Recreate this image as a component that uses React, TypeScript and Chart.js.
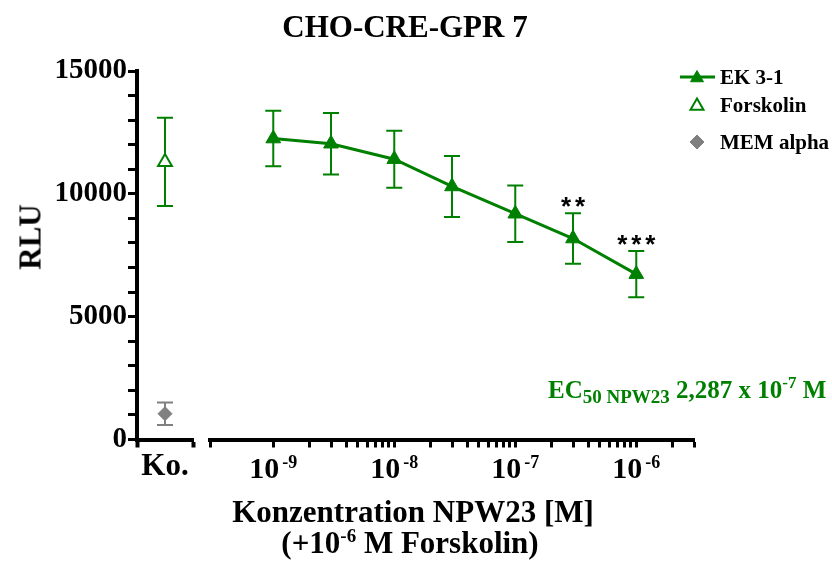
import React, { useEffect, useRef } from 'react';
import { Chart, registerables } from 'chart.js';

Chart.register(...registerables);

// ---------------- data ----------------
const concentrations = [1e-9, 3e-9, 1e-8, 3e-8, 1e-7, 3e-7, 1e-6];
const ekMeans = [12250, 12040, 11410, 10300, 9190, 8180, 6730];
const ekErrors = [1130, 1250, 1160, 1240, 1150, 1030, 940];
const ekSignificance = ['', '', '', '', '', '**', '***'];
const controlCategories = ['Ko.'];
const forskolinMeans = [11300];
const forskolinErrors = [1800];
const memMeans = [1050];
const memErrors = [460];
const seriesNames = ['EK 3-1', 'Forskolin', 'MEM alpha'];
const yLabelledTicks = [0, 5000, 10000, 15000];
const xDecadeTicks = [1e-9, 1e-8, 1e-7, 1e-6];
const xRange = [3e-10, 3e-6];
const yRange = [0, 15000];

// ---------------- style ----------------
const GREEN = '#008000';
const GREY = '#808080';
const FONT = '"Liberation Serif", "Times New Roman", serif';
const AREA = { left: 137, right: 694, top: 71, bottom: 439.5 };
const W = 832;
const H = 574;
const LEGEND_ROWS = [84, 112, 149];

function pathTriangle(ctx: CanvasRenderingContext2D, x: number, y: number, r: number) {
  const c = Math.cos(Math.PI / 6) * r;
  ctx.beginPath();
  ctx.moveTo(x, y - r);
  ctx.lineTo(x + c, y + r / 2);
  ctx.lineTo(x - c, y + r / 2);
  ctx.closePath();
}
function pathDiamond(ctx: CanvasRenderingContext2D, x: number, y: number, r: number) {
  ctx.beginPath();
  ctx.moveTo(x, y - r);
  ctx.lineTo(x + r, y);
  ctx.lineTo(x, y + r);
  ctx.lineTo(x - r, y);
  ctx.closePath();
}

const errorBarPlugin = {
  id: 'errorBars',
  beforeDatasetsDraw(chart: any) {
    const ctx = chart.ctx;
    chart.data.datasets.forEach((ds: any, di: number) => {
      if (!ds.errors) return;
      const meta = chart.getDatasetMeta(di);
      const yScale = chart.scales[meta.yAxisID];
      ctx.save();
      ctx.strokeStyle = ds.errorColor;
      ctx.lineWidth = 2;
      meta.data.forEach((el: any, i: number) => {
        const v = ds.data[i].y;
        const e = ds.errors[i];
        const yt = yScale.getPixelForValue(v + e);
        const yb = yScale.getPixelForValue(v - e);
        const x = el.x;
        ctx.beginPath();
        ctx.moveTo(x, yt);
        ctx.lineTo(x, yb);
        ctx.moveTo(x - 8, yt);
        ctx.lineTo(x + 8, yt);
        ctx.moveTo(x - 8, yb);
        ctx.lineTo(x + 8, yb);
        ctx.stroke();
      });
      ctx.restore();
    });
  },
  afterDatasetsDraw(chart: any) {
    const ctx = chart.ctx;
    chart.data.datasets.forEach((ds: any, di: number) => {
      if (!ds.significance) return;
      const meta = chart.getDatasetMeta(di);
      const yScale = chart.scales[meta.yAxisID];
      ctx.save();
      ctx.fillStyle = '#000';
      ctx.font = `bold 26px "Liberation Sans", Arial, sans-serif`;
      ctx.textAlign = 'center';
      ctx.textBaseline = 'alphabetic';
      meta.data.forEach((el: any, i: number) => {
        const s: string = ds.significance[i];
        if (!s) return;
        const yt = yScale.getPixelForValue(ds.data[i].y + ds.errors[i]);
        const base = yt - 13 + 0.58 * 26;
        const step = 14;
        for (let k = 0; k < s.length; k++) {
          const cx = el.x + (k - (s.length - 1) / 2) * step;
          ctx.fillText(s[k], cx, base);
        }
      });
      ctx.restore();
    });
  },
};

const decadeLabelPlugin = {
  id: 'decadeLabels',
  afterDraw(chart: any) {
    const scale = chart.scales.x;
    const ctx = chart.ctx;
    ctx.save();
    ctx.fillStyle = '#000';
    ctx.textAlign = 'left';
    ctx.textBaseline = 'alphabetic';
    xDecadeTicks.forEach((v) => {
      const px = scale.getPixelForValue(v);
      const exp = String(Math.round(Math.log10(v)));
      ctx.font = `bold 30px ${FONT}`;
      const w1 = ctx.measureText('10').width;
      ctx.font = `bold 18px ${FONT}`;
      const w2 = ctx.measureText(exp).width;
      const gap = 3;
      const start = px - (w1 + gap + w2) / 2;
      ctx.font = `bold 30px ${FONT}`;
      ctx.fillText('10', start, scale.top + 38.5);
      ctx.font = `bold 18px ${FONT}`;
      ctx.fillText(exp, start + w1 + gap, scale.top + 28.5);
    });
    ctx.restore();
  },
};

const legendPlugin = {
  id: 'customLegend',
  afterDraw(chart: any) {
    const ctx = chart.ctx;
    ctx.save();
    chart.data.datasets.forEach((ds: any, i: number) => {
      const base = LEGEND_ROWS[i];
      const my = base - 7;
      const mx = 697;
      if (ds.showLine !== false) {
        ctx.strokeStyle = ds.borderColor;
        ctx.lineWidth = 3;
        ctx.beginPath();
        ctx.moveTo(680, my);
        ctx.lineTo(715, my);
        ctx.stroke();
      }
      if (ds.pointStyle === 'triangle') pathTriangle(ctx, mx, my + 1, 7.5);
      else pathDiamond(ctx, mx, my, 7);
      ctx.fillStyle = ds.pointBackgroundColor;
      ctx.fill();
      ctx.strokeStyle = ds.pointBorderColor;
      ctx.lineWidth = ds.pointBorderWidth;
      ctx.stroke();
      ctx.fillStyle = '#000';
      ctx.font = `bold 21px ${FONT}`;
      ctx.textAlign = 'left';
      ctx.textBaseline = 'alphabetic';
      ctx.fillText(ds.label, 720, base);
    });
    ctx.restore();
  },
};

function buildLogTicks() {
  const t: { value: number }[] = [{ value: xRange[0] }];
  for (let e = -9; e <= -6; e++) {
    for (let m = 1; m <= 9; m++) {
      const v = m * Math.pow(10, e);
      if (v < xRange[1] * 0.9999) t.push({ value: v });
    }
  }
  t.push({ value: xRange[1] });
  return t;
}

const xAxisHeight = H - AREA.bottom;

function Label(props: { x: number; base: number; size: number; align?: string; color?: string; children: any }) {
  const { x, base, size, align = 'center', color = '#000', children } = props;
  const top = base - 0.8375 * size;
  const transform = align === 'center' ? 'translateX(-50%)' : align === 'right' ? 'translateX(-100%)' : 'none';
  return (
    <div
      style={{
        position: 'absolute',
        left: x,
        top,
        fontSize: size,
        lineHeight: `${size}px`,
        fontWeight: 'bold',
        whiteSpace: 'nowrap',
        transform,
        color,
        fontFamily: FONT,
      }}
    >
      {children}
    </div>
  );
}

function Shift(props: { size: number; dy: number; children: any }) {
  return (
    <span style={{ fontSize: props.size, lineHeight: 0, position: 'relative', top: props.dy }}>{props.children}</span>
  );
}

export default function App() {
  const ref = useRef<HTMLCanvasElement>(null);

  useEffect(() => {
    if (!ref.current) return;
    const tickFont = { family: FONT, size: 29, weight: 'bold' as const };
    const chart = new Chart(ref.current, {
      type: 'line',
      data: {
        datasets: [
          {
            label: seriesNames[0],
            xAxisID: 'x',
            yAxisID: 'y',
            data: concentrations.map((c, i) => ({ x: c, y: ekMeans[i] })),
            borderColor: GREEN,
            borderWidth: 3,
            pointStyle: 'triangle',
            pointRadius: 8.5,
            pointBackgroundColor: GREEN,
            pointBorderColor: GREEN,
            pointBorderWidth: 1,
            tension: 0,
            errors: ekErrors,
            errorColor: GREEN,
            significance: ekSignificance,
          } as any,
          {
            label: seriesNames[1],
            xAxisID: 'xKo',
            yAxisID: 'y',
            data: controlCategories.map((c, i) => ({ x: c, y: forskolinMeans[i] })),
            showLine: false,
            borderColor: GREEN,
            pointStyle: 'triangle',
            pointRadius: 8,
            pointBackgroundColor: '#ffffff',
            pointBorderColor: GREEN,
            pointBorderWidth: 2,
            errors: forskolinErrors,
            errorColor: GREEN,
          } as any,
          {
            label: seriesNames[2],
            xAxisID: 'xKo',
            yAxisID: 'y',
            data: controlCategories.map((c, i) => ({ x: c, y: memMeans[i] })),
            showLine: false,
            borderColor: GREY,
            pointStyle: 'rectRot',
            pointRadius: 7,
            pointBackgroundColor: GREY,
            pointBorderColor: GREY,
            pointBorderWidth: 1,
            errors: memErrors,
            errorColor: GREY,
          } as any,
        ],
      },
      options: {
        responsive: false,
        animation: false,
        events: [],
        layout: { padding: { left: 0, top: AREA.top, right: W - AREA.right, bottom: 0 } },
        plugins: {
          legend: { display: false },
          tooltip: { enabled: false },
          title: { display: false },
        },
        scales: {
          xKo: {
            type: 'category',
            labels: controlCategories,
            position: 'bottom',
            stack: 'xs',
            stackWeight: 56,
            weight: 0,
            offset: true,
            grid: { display: true, drawOnChartArea: false, offset: true, tickLength: 8, tickWidth: 4, tickColor: '#000' },
            border: { display: true, color: '#000', width: 4 },
            ticks: { font: { family: FONT, size: 31, weight: 'bold' }, color: '#000', padding: 1, autoSkip: false, maxRotation: 0 },
            afterFit: (s: any) => {
              s.height = xAxisHeight;
            },
          },
          xGap: {
            type: 'linear',
            position: 'bottom',
            stack: 'xs',
            stackWeight: 17,
            weight: 1,
            grid: { display: false },
            border: { display: false },
            ticks: { display: false },
            afterFit: (s: any) => {
              s.height = xAxisHeight;
            },
          },
          x: {
            type: 'logarithmic',
            min: xRange[0],
            max: xRange[1],
            position: 'bottom',
            stack: 'xs',
            stackWeight: 484,
            weight: 2,
            grid: { display: true, drawOnChartArea: false, tickLength: 8, tickWidth: 3, tickColor: '#000' },
            border: { display: true, color: '#000', width: 4 },
            ticks: { display: false, autoSkip: false },
            afterBuildTicks: (s: any) => {
              s.ticks = buildLogTicks();
            },
            afterFit: (s: any) => {
              s.height = xAxisHeight;
            },
          },
          y: {
            type: 'linear',
            min: yRange[0],
            max: yRange[1],
            position: 'left',
            grid: { display: true, drawOnChartArea: false, tickLength: 9, tickWidth: 3, tickColor: '#000' },
            border: { display: true, color: '#000', width: 4 },
            ticks: {
              stepSize: 1000,
              autoSkip: false,
              font: tickFont,
              color: '#000',
              padding: 1,
              callback: (v: any) => (yLabelledTicks.includes(Number(v)) ? String(v) : ''),
            },
            afterFit: (s: any) => {
              s.width = AREA.left;
            },
          },
        } as any,
      },
      plugins: [errorBarPlugin, decadeLabelPlugin, legendPlugin],
    });
    return () => chart.destroy();
  }, []);

  return (
    <div style={{ position: 'absolute', left: 0, top: 0, width: W, height: H, background: '#fff', overflow: 'hidden' }}>
      <canvas ref={ref} width={W} height={H} style={{ position: 'absolute', left: 0, top: 0, width: W, height: H }} />
      <Label x={405} base={37} size={31}>CHO-CRE-GPR 7</Label>
      <div
        style={{
          position: 'absolute',
          left: 30,
          top: 237,
          transform: 'translate(-50%, -50%) rotate(-90deg)',
          fontFamily: FONT,
          fontWeight: 'bold',
          fontSize: 31,
          lineHeight: '31px',
          whiteSpace: 'nowrap',
        }}
      >
        RLU
      </div>
      <Label x={413} base={522} size={31}>Konzentration NPW23 [M]</Label>
      <Label x={410} base={553} size={31}>
        (+10<Shift size={19} dy={-11}>-6</Shift> M Forskolin)
      </Label>
      <Label x={548} base={398} size={25} align="left" color={GREEN}>
        EC<Shift size={19} dy={5}>50 NPW23</Shift> 2,287 x 10<Shift size={17} dy={-10}>-7</Shift> M
      </Label>
    </div>
  );
}
